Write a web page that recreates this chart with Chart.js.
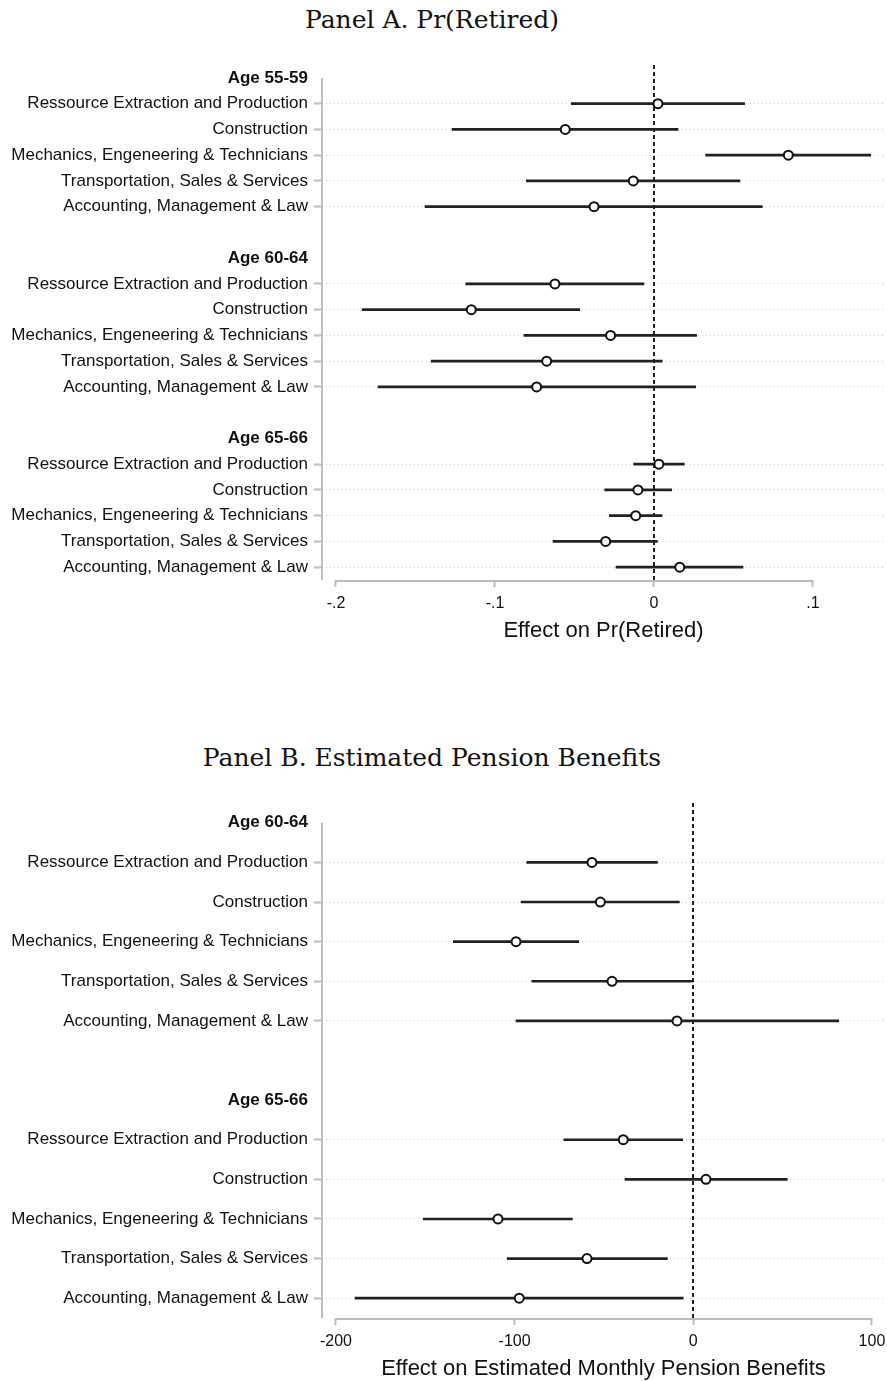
<!DOCTYPE html>
<html>
<head>
<meta charset="utf-8">
<script src="https://cdn.jsdelivr.net/npm/chart.js@4.4.1/dist/chart.umd.min.js"></script>
<style>
  html, body { margin: 0; padding: 0; background: #fff; overflow: hidden; }
  body { width: 887px; height: 1381px; position: relative; }
  .panel { position: absolute; left: 0; width: 887px; height: 644px; }
  .panel-title {
    position: absolute; left: 0; top: 5px; width: 864px;
    text-align: center; font: 25px/30px 'DejaVu Serif', serif; color: #111;
  }
  .panel canvas { position: absolute; left: 0; top: 0; }
</style>
</head>
<body>
<div class="panel" style="top:0">
  <div class="panel-title">Panel A. Pr(Retired)</div>
  <canvas id="retiredChart" width="887" height="644"></canvas>
</div>
<div class="panel" style="top:738px">
  <div class="panel-title">Panel B. Estimated Pension Benefits</div>
  <canvas id="pensionChart" width="887" height="644"></canvas>
</div>
<script>
var occupations = [
    'Ressource Extraction and Production',
    'Construction',
    'Mechanics, Engeneering & Technicians',
    'Transportation, Sales & Services',
    'Accounting, Management & Law'
];

// Panel A: effect on Pr(Retired), one row of 5 per age group
var retiredGroups = ['Age 55-59', 'Age 60-64', 'Age 65-66'];
var retiredEst = [
    [0.0025, -0.0558, 0.0845, -0.0130, -0.0377],
    [-0.0623, -0.1149, -0.0273, -0.0675, -0.0738],
    [0.0031, -0.0101, -0.0115, -0.0304, 0.0162]
];
var retiredLow = [
    [-0.0520, -0.1270, 0.0325, -0.0803, -0.1440],
    [-0.1184, -0.1835, -0.0818, -0.1401, -0.1736],
    [-0.0128, -0.0310, -0.0281, -0.0635, -0.0239]
];
var retiredHigh = [
    [0.0570, 0.0151, 0.1363, 0.0541, 0.0681],
    [-0.0063, -0.0467, 0.0268, 0.0052, 0.0262],
    [0.0191, 0.0111, 0.0050, 0.0021, 0.0560]
];
var retiredTicks = [-0.2, -0.1, 0, 0.1];
var retiredTickLabels = ['-.2', '-.1', '0', '.1'];

// Panel B: effect on estimated monthly pension benefits
var pensionGroups = ['Age 60-64', 'Age 65-66'];
var pensionEst = [
    [-56.7, -52.0, -99.2, -45.5, -9.1],
    [-39.2, 7.1, -109.3, -59.5, -97.4]
];
var pensionLow = [
    [-93.2, -96.4, -134.3, -90.4, -99.2],
    [-72.4, -38.2, -151.1, -104.1, -189.3]
];
var pensionHigh = [
    [-20.1, -7.8, -64.1, -0.3, 81.4],
    [-5.9, 52.6, -67.7, -14.5, -5.6]
];
var pensionTicks = [-200, -100, 0, 100];
var pensionTickLabels = ['-200', '-100', '0', '100'];

var sans = "'Liberation Sans', Arial, sans-serif";
var axisGray = '#bdbdbd';

// header row, 5 occupation rows, blank spacer between groups
function buildRows(groups, est, low, high) {
    var rows = { labels: [], kind: [], ci: [], pt: [] };
    groups.forEach(function (g, gi) {
        rows.labels.push(g); rows.kind.push('head'); rows.ci.push(null); rows.pt.push(null);
        occupations.forEach(function (occ, i) {
            rows.labels.push(occ);
            rows.kind.push('row');
            rows.ci.push([low[gi][i], high[gi][i]]);
            rows.pt.push(est[gi][i]);
        });
        if (gi < groups.length - 1) {
            rows.labels.push(''); rows.kind.push('gap'); rows.ci.push(null); rows.pt.push(null);
        }
    });
    return rows;
}

// stata-style axes: y line from first row down, x line only between end ticks, dashed zero line
var axisLines = {
    id: 'axisLines',
    beforeDatasetsDraw: function (chart, args, opts) {
        var ctx = chart.ctx, area = chart.chartArea;
        var x = chart.scales.x, y = chart.scales.y;
        ctx.save();
        ctx.strokeStyle = axisGray;
        ctx.lineWidth = 2;
        ctx.beginPath();
        ctx.moveTo(area.left, y.getPixelForValue(0));
        ctx.lineTo(area.left, area.bottom);
        ctx.moveTo(x.getPixelForValue(opts.from), area.bottom + 1);
        ctx.lineTo(x.getPixelForValue(opts.to), area.bottom + 1);
        ctx.stroke();

        var zx = Math.round(x.getPixelForValue(0));
        ctx.strokeStyle = '#222';
        ctx.lineWidth = 2;
        ctx.setLineDash([4, 3]);
        ctx.beginPath();
        ctx.moveTo(zx, area.top);
        ctx.lineTo(zx, area.bottom);
        ctx.stroke();
        ctx.restore();
    }
};

function makeChart(id, rows, xMin, xMax, ticks, tickLabels, axisTitle) {
    return new Chart(document.getElementById(id), {
        type: 'bar',
        data: {
            labels: rows.labels,
            datasets: [{
                type: 'line',
                data: rows.pt,
                indexAxis: 'y',
                showLine: false,
                pointRadius: 4.5,
                pointBorderWidth: 2,
                pointBackgroundColor: '#fff',
                pointBorderColor: '#111',
                order: 0
            }, {
                data: rows.ci,
                backgroundColor: '#222',
                borderWidth: 0,
                barThickness: 2,
                order: 1
            }]
        },
        options: {
            indexAxis: 'y',
            responsive: false,
            animation: false,
            layout: { autoPadding: false, padding: { top: 65, right: 2, left: 0, bottom: 0 } },
            plugins: {
                legend: { display: false },
                tooltip: { enabled: false },
                axisLines: { from: ticks[0], to: ticks[ticks.length - 1] }
            },
            scales: {
                y: {
                    type: 'category',
                    offset: true,
                    border: { display: false, dash: [1, 3] },
                    grid: {
                        offset: false,
                        lineWidth: 1,
                        tickLength: 8,
                        tickWidth: 2,
                        color: function (c) { return rows.kind[c.index] === 'row' ? '#c8c8c8' : 'rgba(0,0,0,0)'; },
                        tickColor: function (c) { return rows.kind[c.index] === 'row' ? axisGray : 'rgba(0,0,0,0)'; }
                    },
                    ticks: {
                        autoSkip: false,
                        padding: 6,
                        color: '#111',
                        font: function (c) {
                            return { family: sans, size: 17, weight: rows.kind[c.index] === 'head' ? 'bold' : 'normal' };
                        }
                    },
                    afterFit: function (scale) { scale.width = 322; }
                },
                x: {
                    type: 'linear',
                    min: xMin,
                    max: xMax,
                    border: { display: false },
                    grid: {
                        drawOnChartArea: false,
                        tickLength: 7,
                        tickWidth: 2,
                        tickColor: axisGray
                    },
                    afterBuildTicks: function (scale) {
                        scale.ticks = ticks.map(function (v) { return { value: v }; });
                    },
                    ticks: {
                        padding: 7,
                        color: '#111',
                        font: { family: sans, size: 16 },
                        callback: function (v, i) { return tickLabels[i]; }
                    },
                    title: {
                        display: true,
                        text: axisTitle,
                        color: '#111',
                        font: { family: sans, size: 22 },
                        padding: { top: 2, bottom: 0 }
                    },
                    afterFit: function (scale) {
                        scale.height = 64;
                        // end labels sit well inside the plot, no extra side padding
                        scale.paddingLeft = 0;
                        scale.paddingRight = 0;
                    }
                }
            }
        },
        plugins: [axisLines]
    });
}

makeChart('retiredChart', buildRows(retiredGroups, retiredEst, retiredLow, retiredHigh),
    -0.2088, 0.1453, retiredTicks, retiredTickLabels, 'Effect on Pr(Retired)');

makeChart('pensionChart', buildRows(pensionGroups, pensionEst, pensionLow, pensionHigh),
    -207.8, 107.3, pensionTicks, pensionTickLabels, 'Effect on Estimated Monthly Pension Benefits');
</script>
</body>
</html>
